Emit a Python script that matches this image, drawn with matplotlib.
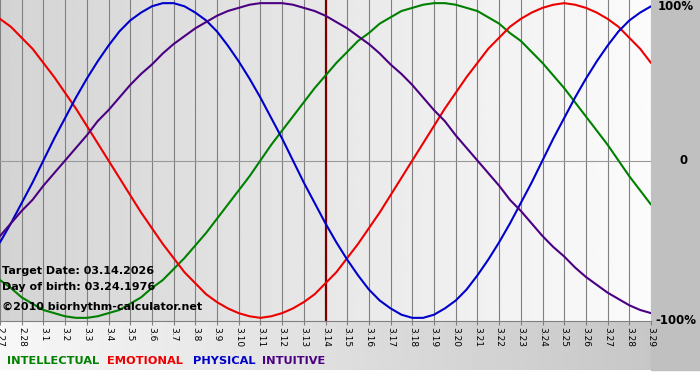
import numpy as np
import matplotlib
matplotlib.use('Agg')
import matplotlib.pyplot as plt
from matplotlib.patches import Rectangle

# day labels along the bottom
days = ['2.27', '2.28'] + ['3.%d' % d for d in range(1, 30)]
target_label = '3.14'

# cycle values every half day (fraction of 100%)
physical = [-0.52, -0.40, -0.27, -0.14, 0.00, 0.14, 0.27, 0.40, 0.52, 0.63,
            0.73, 0.82, 0.89, 0.94, 0.98, 1.00, 1.00, 0.98, 0.94, 0.89,
            0.82, 0.73, 0.63, 0.52, 0.40, 0.27, 0.14, 0.00, -0.14, -0.27,
            -0.40, -0.52, -0.63, -0.73, -0.82, -0.89, -0.94, -0.98, -1.00, -1.00,
            -0.98, -0.94, -0.89, -0.82, -0.73, -0.63, -0.52, -0.40, -0.27, -0.14,
            0.00, 0.14, 0.27, 0.40, 0.52, 0.63, 0.73, 0.82, 0.89, 0.94, 0.98]
emotional = [0.90, 0.85, 0.78, 0.71, 0.62, 0.53, 0.43, 0.33, 0.22, 0.11,
             0.00, -0.11, -0.22, -0.33, -0.43, -0.53, -0.62, -0.71, -0.78, -0.85,
             -0.90, -0.94, -0.97, -0.99, -1.00, -0.99, -0.97, -0.94, -0.90, -0.85,
             -0.78, -0.71, -0.62, -0.53, -0.43, -0.33, -0.22, -0.11, 0.00, 0.11,
             0.22, 0.33, 0.43, 0.53, 0.62, 0.71, 0.78, 0.85, 0.90, 0.94,
             0.97, 0.99, 1.00, 0.99, 0.97, 0.94, 0.90, 0.85, 0.78, 0.71, 0.62]
intellectual = [-0.76, -0.81, -0.87, -0.91, -0.95, -0.97, -0.99, -1.00, -1.00, -0.99,
                -0.97, -0.95, -0.91, -0.87, -0.81, -0.76, -0.69, -0.62, -0.54, -0.46,
                -0.37, -0.28, -0.19, -0.10, 0.00, 0.10, 0.19, 0.28, 0.37, 0.46,
                0.54, 0.62, 0.69, 0.76, 0.81, 0.87, 0.91, 0.95, 0.97, 0.99,
                1.00, 1.00, 0.99, 0.97, 0.95, 0.91, 0.87, 0.81, 0.76, 0.69,
                0.62, 0.54, 0.46, 0.37, 0.28, 0.19, 0.10, 0.00, -0.10, -0.19, -0.28]
intuitive = [-0.48, -0.40, -0.32, -0.25, -0.16, -0.08, 0.00, 0.08, 0.16, 0.25,
             0.32, 0.40, 0.48, 0.55, 0.61, 0.68, 0.74, 0.79, 0.84, 0.88,
             0.92, 0.95, 0.97, 0.99, 1.00, 1.00, 1.00, 0.99, 0.97, 0.95,
             0.92, 0.88, 0.84, 0.79, 0.74, 0.68, 0.61, 0.55, 0.48, 0.40,
             0.32, 0.25, 0.16, 0.08, 0.00, -0.08, -0.16, -0.25, -0.32, -0.40,
             -0.48, -0.55, -0.61, -0.68, -0.74, -0.79, -0.84, -0.88, -0.92, -0.95, -0.97]

series = [('INTELLECTUAL', intellectual, '#008000'),
          ('EMOTIONAL', emotional, '#ee0000'),
          ('PHYSICAL', physical, '#0000cc'),
          ('INTUITIVE', intuitive, '#4b0082')]
legend_x = [7, 107, 193, 262]  # pixel position of each legend word

info_lines = ['Target Date: 03.14.2026', 'Day of birth: 03.24.1976',
              '\u00a92010 biorhythm-calculator.net']

W, H = 700, 380
fig = plt.figure(figsize=(W / 100, H / 100), dpi=100)
fig.patch.set_facecolor('white')

# right-hand grey panel and bottom gradient band
fig.patches.append(Rectangle((651 / W, 10 / H), 49 / W, 370 / H,
                             transform=fig.transFigure, color='#c0c0c0', zorder=0))
band = fig.add_axes([0, 10 / H, 651 / W, 49 / H], zorder=0)
grad = np.linspace(0.97, 0.78, 256).reshape(1, -1)
band.imshow(grad, cmap='gray', vmin=0, vmax=1, aspect='auto', extent=[0, 1, 0, 1])
band.set_axis_off()

ax = fig.add_axes([0, 59 / H, 651 / W, 321 / H], zorder=2)
x = np.arange(len(days))
steps = np.arange(len(physical)) * 0.5
ax.set_xlim(0, len(days) - 1)
ax.set_ylim(-1.02, 1.02)

# plot area gradient, darker on the left
bg = np.linspace(0.83, 0.985, 256).reshape(1, -1)
ax.imshow(bg, cmap='gray', vmin=0, vmax=1, aspect='auto',
          extent=[0, len(days) - 1, -1.02, 1.02], zorder=0)

for xi in x:
    ax.axvline(xi, color='#808080', lw=0.8, zorder=1)
ax.axhline(0, color='#9a9a9a', lw=0.8, zorder=1)
ax.axvline(days.index(target_label), color='#7a0000', lw=1.6, zorder=2)

for name, vals, col in series:
    ax.plot(steps, vals, color=col, lw=1.5, zorder=3, solid_capstyle='round')

for sp in ['top', 'left', 'right']:
    ax.spines[sp].set_visible(False)
ax.spines['bottom'].set_color('#808080')
ax.spines['bottom'].set_linewidth(0.8)
ax.set_yticks([])
ax.set_xticks(x)
ax.set_xticklabels(days, rotation=270, fontsize=6.5, family='DejaVu Sans')
ax.tick_params(axis='x', length=3, color='#808080', pad=1)

for i, line in enumerate(info_lines):
    ypix = [271, 287, 307][i]
    fig.text(2 / W, 1 - ypix / H, line, fontsize=8, fontweight='bold',
             va='center', ha='left', color='black', zorder=5)

for (name, vals, col), lx in zip(series, legend_x):
    fig.text(lx / W, 1 - 361 / H, name, fontsize=8.2, fontweight='bold',
             color=col, va='center', ha='left')

for label, ypix, xpix in [('100%', 7, 658), ('0', 161, 680), ('-100%', 321, 655)]:
    fig.text(xpix / W, 1 - ypix / H, label, fontsize=8.5, fontweight='bold',
             va='center', ha='left', color='black')

fig.savefig('out.png', dpi=100)
